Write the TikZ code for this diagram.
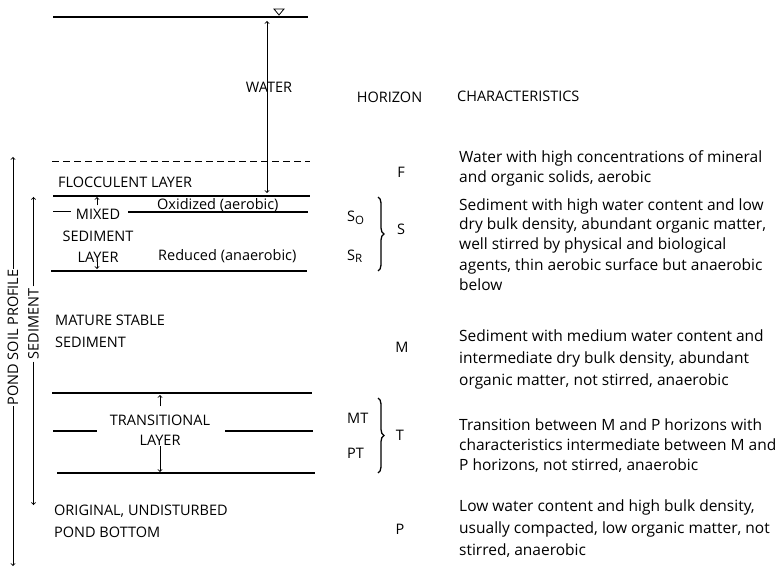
\documentclass[tikz,border=0pt]{standalone}
\usepackage{fontspec}
\setmainfont{Open Sans}
\usetikzlibrary{positioning, arrows, decorations.pathreplacing}
\tikzstyle{arrow} = [->,>=to,line width=0.9pt]
\newcommand{\subidx}[1]{\raisebox{-2.5pt}{\fontsize{11.5}{12}\selectfont #1}}

\begin{document}
\begin{tikzpicture}[x=1pt, y=-1pt,
    font=\fontsize{14.5}{22}\selectfont,
    bound/.style={line width=1.8pt},
    split/.style={line width=1.1pt},
    lbl/.style={inner sep=0pt},
    desc/.style={anchor=base west, align=left, inner sep=0pt, font=\fontsize{15.5}{20}\selectfont},
    hor-brace/.style={decorate, decoration={brace, amplitude=6pt}, line width=1.3pt}
  ]

  \useasboundingbox (0,0) rectangle (781,569);

  % water column
  \draw[bound] (53,17) -- (308,17);
  \draw[line width=0.8pt] (274,9) -- (284,9) -- (279,15) -- cycle;
  \coordinate (w-top) at (267,21);
  \coordinate (w-bot) at (267,193);
  \draw[arrow, <->] (w-top) -- (w-bot);
  \node[lbl, anchor=base] (water) at (269,93) {WATER};

  % flocculent layer
  \draw[split, dash pattern=on 7pt off 4pt] (52,161.5) -- (310,161.5);
  \node[lbl, anchor=base west] (floc) at (58,188) {FLOCCULENT LAYER};
  \draw[bound] (53,196) -- (310,196);

  % mixed sediment layer
  \draw[split] (53,211.5) -- (71,211.5);
  \draw[split] (128,212) -- (308,212);
  \node[lbl, anchor=base] (mixed) at (98,220) {MIXED};
  \node[lbl, anchor=base] (msed) at (98,242) {SEDIMENT};
  \node[lbl, anchor=base] (mlayer) at (98,262) {LAYER};
  \node[lbl, anchor=base west] (oxid) at (157,210) {Oxidized (aerobic)};
  \node[lbl, anchor=base west] (reduc) at (158,260) {Reduced (anaerobic)};
  \draw[bound] (51,271) -- (307,271);
  \coordinate (m-top) at (97,197);
  \coordinate (m-bot) at (97,269);
  \draw[arrow] (mixed.north -| m-top) ++(0,-4) -- (m-top);
  \draw[arrow] (mlayer.south -| m-bot) -- (m-bot);

  % mature sediment
  \node[lbl, anchor=base west, align=left] (mature) at (55,347) {MATURE STABLE\\SEDIMENT};

  % transitional layer
  \draw[bound] (52,393) -- (312,393);
  \draw[split] (53,431) -- (97,431);
  \draw[split] (225,431) -- (313,431);
  \node[lbl, anchor=base] (trans) at (160,425) {TRANSITIONAL};
  \node[lbl, anchor=base] (tlayer) at (160,445) {LAYER};
  \draw[bound] (57,473) -- (315,473);
  \coordinate (t-top) at (160,395);
  \coordinate (t-bot) at (160,472);
  \draw[arrow] (trans.north) ++(0,-8) -- (t-top);
  \draw[arrow] (tlayer.south) ++(0,1) -- (t-bot);

  % bottom
  \node[lbl, anchor=base west, align=left] (orig) at (54,537) {ORIGINAL, UNDISTURBED\\POND BOTTOM};

  % profile arrows
  \node[lbl, rotate=90, inner sep=0.5pt] (profile) at (13,337.5) {POND SOIL PROFILE};
  \coordinate (p-top) at (13,157);
  \coordinate (p-bot) at (13,566);
  \draw[arrow] (profile.east) -- (p-top);
  \draw[arrow] (profile.west) -- (p-bot);
  \node[lbl, rotate=90, inner sep=2pt] (sed) at (33.5,324) {SEDIMENT};
  \coordinate (s-top) at (33.5,197);
  \coordinate (s-bot) at (33.5,505);
  \draw[arrow] (sed.east) -- (s-top);
  \draw[arrow] (sed.west) -- (s-bot);

  % horizons
  \node[lbl, anchor=base] (horizon) at (389.5,103) {HORIZON};
  \node[lbl, anchor=base west] (charac) at (457,102) {CHARACTERISTICS};
  \node[lbl, anchor=base] (hf) at (401,178) {F};
  \node[lbl, anchor=base] (hs) at (401,235) {S};
  \node[lbl, anchor=base west] (so) at (347,222) {S\subidx{O}};
  \node[lbl, anchor=base west] (sr) at (347,260) {S\subidx{R}};
  \draw[hor-brace] (378,197) -- (378,271);
  \node[lbl, anchor=base] (hm) at (402,352) {M};
  \node[lbl, anchor=base west] (mt) at (347,423) {MT};
  \node[lbl, anchor=base west] (pt) at (347,458) {PT};
  \draw[hor-brace] (378,398) -- (378,473);
  \node[lbl, anchor=base] (ht) at (400,440) {T};
  \node[lbl, anchor=base] (hp) at (400,534) {P};

  % characteristics
  \node[desc] (df) at (459,183) {Water with high concentrations of mineral\\and organic solids, aerobic};
  \node[desc] (ds) at (459,290) {Sediment with high water content and low\\dry bulk density, abundant organic matter,\\well stirred by physical and biological\\agents, thin aerobic surface but anaerobic\\below};
  \node[desc, font=\fontsize{15.5}{21.6}\selectfont] (dm) at (459,385) {Sediment with medium water content and\\intermediate dry bulk density, abundant\\organic matter, not stirred, anaerobic};
  \node[desc] (dt) at (459,470) {Transition between M and P horizons with\\characteristics intermediate between M and\\P horizons, not stirred, anaerobic};
  \node[desc, font=\fontsize{15.5}{21.6}\selectfont] (dp) at (459,555) {Low water content and high bulk density,\\usually compacted, low organic matter, not\\stirred, anaerobic};

\end{tikzpicture}
\end{document}
